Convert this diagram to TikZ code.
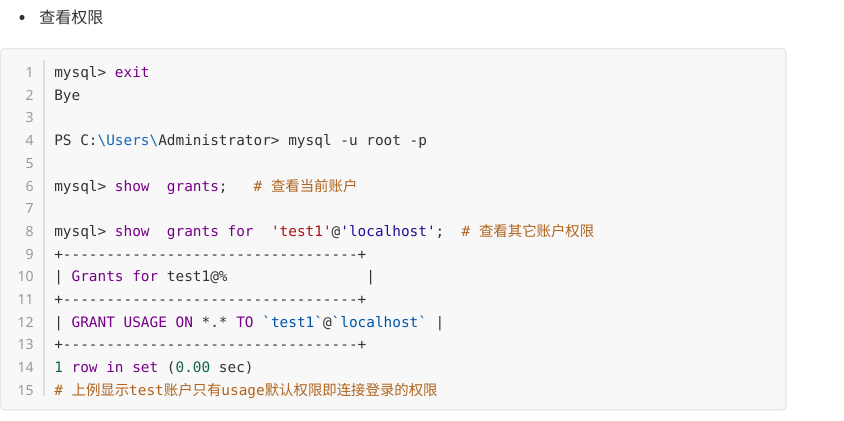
\documentclass[tikz,border=0pt]{standalone}
\usepackage{fontspec}
\setmainfont{Noto Sans}
\setmonofont{DejaVu Sans Mono}
\newfontfamily\cjk{Noto Sans CJK SC}
\definecolor{txt}{HTML}{333333}
\definecolor{ckwc}{HTML}{770088}
\definecolor{cstrc}{HTML}{AA1111}
\definecolor{catomc}{HTML}{221199}
\definecolor{cbtc}{HTML}{0055AA}
\definecolor{cescc}{HTML}{1A66B8}
\definecolor{cnumc}{HTML}{116644}
\definecolor{ccomc}{HTML}{B0641E}
\definecolor{boxfill}{HTML}{F8F8F8}
\definecolor{boxline}{HTML}{E6E6E6}
\definecolor{gutterline}{HTML}{DDDDDD}
\definecolor{lnum}{HTML}{999999}
\newcommand\ckw[1]{\textcolor{ckwc}{#1}}
\newcommand\cstr[1]{\textcolor{cstrc}{#1}}
\newcommand\catom[1]{\textcolor{catomc}{#1}}
\newcommand\cbt[1]{\textcolor{cbtc}{#1}}
\newcommand\cesc[1]{\textcolor{cescc}{#1}}
\newcommand\cnum[1]{\textcolor{cnumc}{#1}}
\newcommand\ccom[1]{\textcolor{ccomc}{#1}}
\newcommand\dashrow{+----------------------------------+}
\tikzset{
  codeline/.style={anchor=base west, inner sep=0pt, text=txt,
    font=\ttfamily\fontsize{10.8}{13}\selectfont},
  lineno/.style={anchor=base east, inner sep=0pt, text=lnum,
    font=\fontsize{10.5}{13}\selectfont},
  codebox/.style={fill=boxfill, draw=boxline, line width=0.9pt, rounded corners=3pt},
  heading/.style={anchor=west, inner sep=0pt, text=txt,
    font=\cjk\fontsize{12}{14}\selectfont}
}
\begin{document}
\begin{tikzpicture}[x=0.75pt,y=-0.75pt]
\useasboundingbox (0,0) rectangle (844,421);
\fill[white] (0,0) rectangle (844,421);
% heading
\fill[txt] (22,17.5) circle (2.6);
\node[heading] (head) at (39,17.5) {查看权限};
% code box
\path[codebox] (0.5,48.5) rectangle (786,410);
\draw[gutterline, line width=1.5pt] (44,60) -- (44,396);
% line numbers
\foreach \i in {1,...,15}{
  \node[lineno] (n\i) at (34,{77.5+(\i-1)*22.7}) {\i};
}
% code lines
\node[codeline] (l1)  at (54,77.5) {mysql> \ckw{exit}};
\node[codeline] (l2)  at (54,100.2) {Bye};
\node[codeline] (l4)  at (54,145.6) {PS C:\cesc{\textbackslash Users\textbackslash}Administrator> mysql -u root -p};
\node[codeline] (l6)  at (54,191.0) {mysql> \ckw{show}~~\ckw{grants};~~~\ccom{\# {\cjk 查看当前账户}}};
\node[codeline] (l8)  at (54,236.4) {mysql> \ckw{show}~~\ckw{grants}~\ckw{for}~~\cstr{'test1'}@\catom{'localhost'};~~\ccom{\# {\cjk 查看其它账户权限}}};
\node[codeline] (l9)  at (54,259.1) {\dashrow};
\node[codeline] (l10) at (54,281.8) {|~\ckw{Grants}~\ckw{for}~test1@\%~~~~~~~~~~~~~~~~|};
\node[codeline] (l11) at (54,304.5) {\dashrow};
\node[codeline] (l12) at (54,327.2) {|~\ckw{GRANT}~\ckw{USAGE}~\ckw{ON}~*.*~\ckw{TO}~\cbt{`test1`}@\cbt{`localhost`}~|};
\node[codeline] (l13) at (54,349.9) {\dashrow};
\node[codeline] (l14) at (54,372.6) {\cnum{1}~\ckw{row}~\ckw{in}~\ckw{set}~(\cnum{0.00}~sec)};
\node[codeline] (l15) at (54,395.3) {\ccom{\#~{\cjk 上例显示}test{\cjk 账户只有}usage{\cjk 默认权限即连接登录的权限}}};
\end{tikzpicture}
\end{document}
